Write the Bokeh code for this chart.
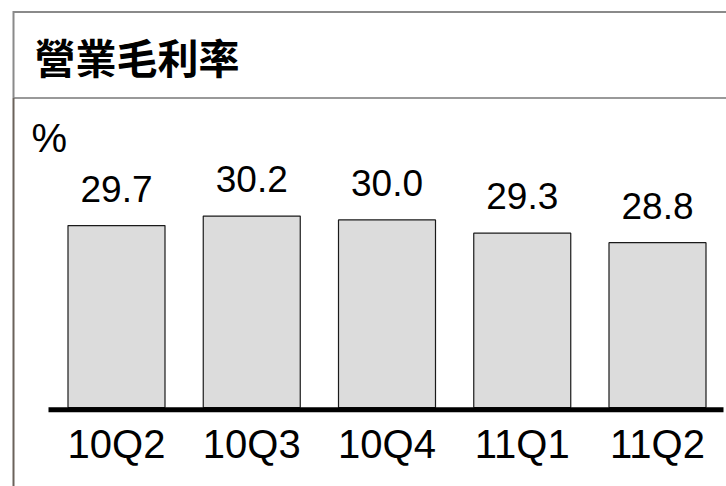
from bokeh.plotting import figure
from bokeh.models import Range1d, ColumnDataSource
from bokeh.core.properties import value
from bokeh.embed import file_html
from bokeh.resources import INLINE

# ---- data ----
title_text = "營業毛利率"
unit_text = "%"
categories = ["10Q2", "10Q3", "10Q4", "11Q1", "11Q2"]
margins = [29.7, 30.2, 30.0, 29.3, 28.8]
labels = ["29.7", "30.2", "30.0", "29.3", "28.8"]

# ---- geometry (canvas pixels) ----
W, H = 726, 486
PX_PER_X = 135.25      # pixels per category step
X0_PX = 116.0          # canvas x of first category centre
PX_PER_Y = 18.95       # pixels per percentage point
Y_BASE = 20.1          # value axis baseline
BASE_PX = 407.0        # canvas y of baseline
TXT_SHIFT = 15         # correction for svg text baseline


def dx(px):
    return (px - X0_PX) / PX_PER_X


def dy(py):
    return Y_BASE + (BASE_PX - py) / PX_PER_Y


p = figure(width=W, height=H,
           x_range=Range1d(dx(0), dx(W)), y_range=Range1d(dy(H), dy(0)),
           x_axis_type=None, y_axis_type=None,
           toolbar_location=None, output_backend="svg", min_border=0)
p.grid.visible = False
p.outline_line_color = None
p.background_fill_color = "white"
p.border_fill_color = "white"

xs = list(range(len(categories)))
src = ColumnDataSource(dict(x=xs, top=margins, lab=labels, cat=categories))

# header frame lines
p.segment(x0=[dx(13)], y0=[dy(11.5)], x1=[dx(W + 2)], y1=[dy(11.5)],
          line_color="#8a8a8a", line_width=2)
p.segment(x0=[dx(13)], y0=[dy(97.5)], x1=[dx(W + 2)], y1=[dy(97.5)],
          line_color="#999999", line_width=2)
p.segment(x0=[dx(13)], y0=[dy(10.5)], x1=[dx(13)], y1=[dy(97.5)],
          line_color="#8a8a8a", line_width=2)
p.segment(x0=[dx(13)], y0=[dy(97.5)], x1=[dx(13)], y1=[dy(H + 2)],
          line_color="#6b625b", line_width=2)

# title
p.text(x=[dx(34)], y=[dy(55)], text=[title_text],
       text_font=value("Noto Sans CJK TC"), text_font_style="bold",
       text_font_size="41px", text_color="black",
       text_align="left", text_baseline="middle")

# unit
p.text(x=[dx(31)], y=[dy(152 - TXT_SHIFT)], text=[unit_text],
       text_font=value("Liberation Sans"), text_font_size="40px",
       text_color="black", text_align="left", text_baseline="alphabetic")

# bars
p.vbar(x="x", top="top", bottom=Y_BASE, width=97 / PX_PER_X, source=src,
       fill_color="#dcdcdc", line_color="#1a1a1a", line_width=1.2)

# baseline
p.segment(x0=[dx(48)], y0=[dy(409.3)], x1=[dx(723)], y1=[dy(409.3)],
          line_color="black", line_width=5)

# value labels
p.text(x="x", y="top", text="lab", source=src, y_offset=-22 - TXT_SHIFT,
       text_font=value("Liberation Sans"), text_font_size="37px",
       text_color="black", text_align="center", text_baseline="alphabetic")

# category labels
p.text(x="x", y=dy(458 - TXT_SHIFT), text="cat", source=src,
       text_font=value("Liberation Sans"), text_font_size="40px",
       text_color="black", text_align="center", text_baseline="alphabetic")

open("out.html", "w").write(file_html(p, INLINE))
